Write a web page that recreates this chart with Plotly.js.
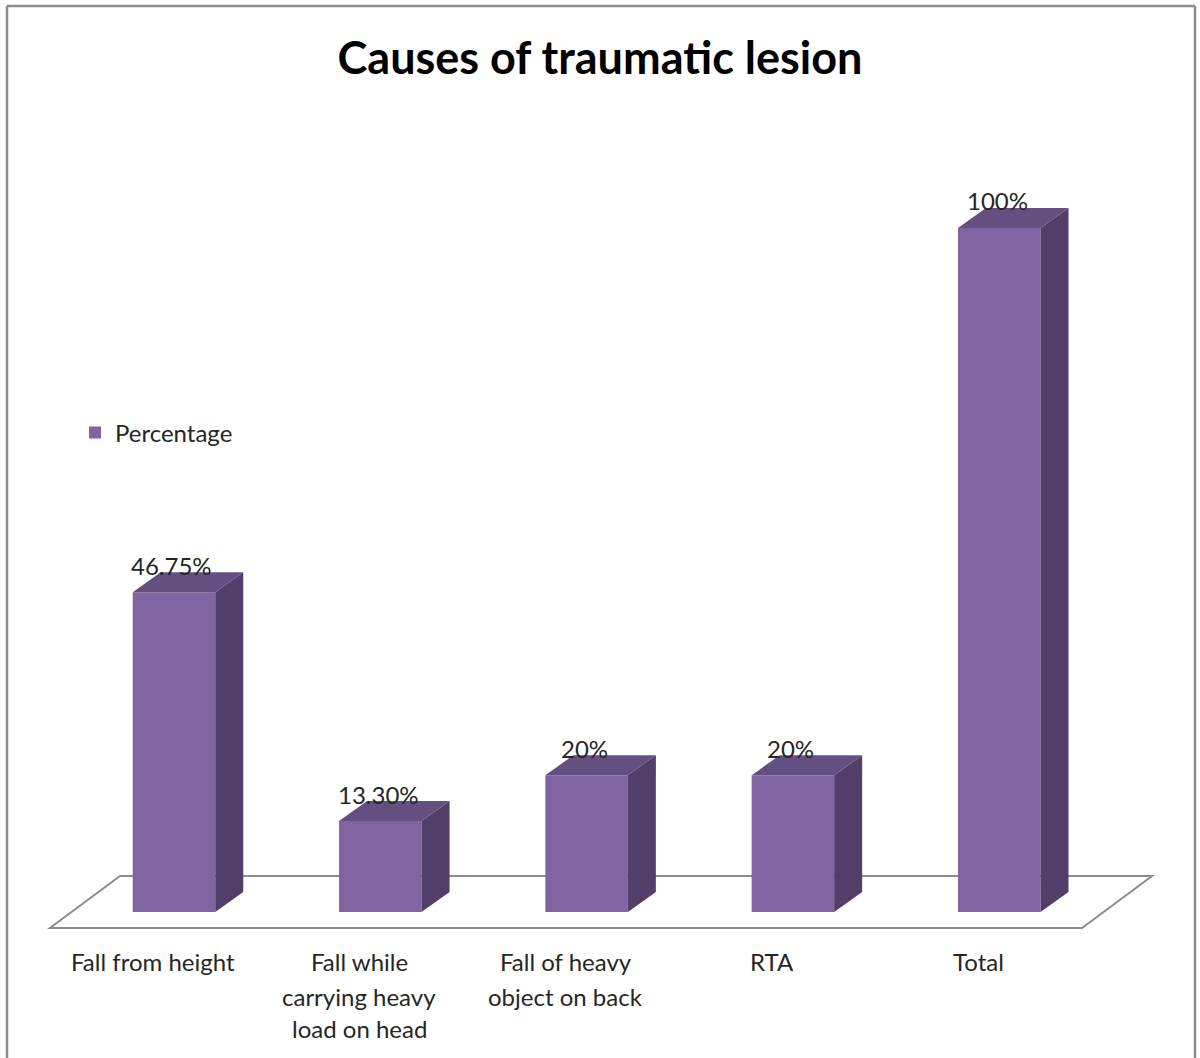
<!DOCTYPE html>
<html>
<head>
<meta charset="utf-8">
<script src="https://cdn.plot.ly/plotly-3.0.1.min.js"></script>
<style>
  html, body { margin: 0; padding: 0; background: #ffffff; }
  #chart { width: 1200px; height: 1058px; }
</style>
</head>
<body>
<div id="chart"></div>
<script>
// ---- data ----
const categories = [
  "Fall from height",
  "Fall while\ncarrying heavy\nload on head",
  "Fall of heavy\nobject on back",
  "RTA",
  "Total"
];
const percentages = [46.75, 13.30, 20, 20, 100];
const valueLabels = ["46.75%", "13.30%", "20%", "20%", "100%"];
const seriesName = "Percentage";
const chartTitle = "Causes of traumatic lesion";

// ---- styling / geometry ----
const W = 1200, H = 1058;
const M = { l: 40, r: 40, t: 100, b: 118 };
const xRange = [-0.6495, 4.7794];
const yRange = [-4.09, 118.71];
const plotW = W - M.l - M.r, plotH = H - M.t - M.b;
const pxPerX = plotW / (xRange[1] - xRange[0]);
const pxPerY = plotH / (yRange[1] - yRange[0]);
const barWidth = 0.4;
const depthX = 28 / pxPerX;   // 3D depth offset (data units)
const depthY = 20 / pxPerY;
const FRONT = "#8064a2", SIDE = "#513f6a", TOP = "#634f80";
const FONT = "Lato, 'Open Sans', sans-serif";
const TEXT = "#262626";

const xs = categories.map((_, i) => i);
function paperX(px) { return (px - M.l) / plotW; }
function paperY(py) { return (H - M.b - py) / plotH; }

const traces = [];
// front faces
traces.push({
  type: "bar", x: xs, y: percentages, width: barWidth, name: seriesName,
  marker: { color: FRONT, line: { width: 0 } }, hoverinfo: "skip", showlegend: true
});
// side & top faces
xs.forEach((x, i) => {
  const v = percentages[i];
  const x0 = x - barWidth / 2, x1 = x + barWidth / 2;
  traces.push({
    type: "scatter", mode: "lines", fill: "toself", fillcolor: SIDE,
    line: { width: 0, color: SIDE }, hoverinfo: "skip", showlegend: false,
    x: [x1, x1 + depthX, x1 + depthX, x1, x1],
    y: [0, depthY, v + depthY, v, 0]
  });
  traces.push({
    type: "scatter", mode: "lines", fill: "toself", fillcolor: TOP,
    line: { width: 0, color: TOP }, hoverinfo: "skip", showlegend: false,
    x: [x0, x1, x1 + depthX, x0 + depthX, x0],
    y: [v, v, v + depthY, v + depthY, v]
  });
});

// floor (drawn below the bars)
const fy0 = -16 / pxPerY, fy1 = 36 / pxPerY;
const fxl0 = xRange[0] + (50 - M.l) / pxPerX, fxr0 = xRange[0] + (1082 - M.l) / pxPerX;
const fxl1 = xRange[0] + (120 - M.l) / pxPerX, fxr1 = xRange[0] + (1152 - M.l) / pxPerX;
const shapes = [
  {
    type: "path", xref: "x", yref: "y", layer: "below",
    path: `M${fxl0},${fy0} L${fxr0},${fy0} L${fxr1},${fy1} L${fxl1},${fy1} Z`,
    fillcolor: "#ffffff", line: { color: "#8c8c8c", width: 2 }
  },
  // outer chart border (left, top, right)
  { type: "line", xref: "paper", yref: "paper", x0: paperX(7), x1: paperX(7), y0: paperY(6), y1: paperY(1070), line: { color: "#8c8c8c", width: 2.5 } },
  { type: "line", xref: "paper", yref: "paper", x0: paperX(7), x1: paperX(1195), y0: paperY(6), y1: paperY(6), line: { color: "#8c8c8c", width: 2.5 } },
  { type: "line", xref: "paper", yref: "paper", x0: paperX(1195), x1: paperX(1195), y0: paperY(6), y1: paperY(1070), line: { color: "#8c8c8c", width: 2.5 } }
];

const annotations = [];
// value labels
xs.forEach((x, i) => {
  annotations.push({
    x: x, y: percentages[i], xref: "x", yref: "y", text: valueLabels[i],
    showarrow: false, xanchor: "center", yanchor: "middle", yshift: 27, xshift: -2,
    font: { family: FONT, size: 24, color: TEXT }
  });
});
// category labels (line by line)
const lineY = [962, 996, 1028];
xs.forEach((x, i) => {
  categories[i].split("\n").forEach((line, j) => {
    annotations.push({
      x: x, y: paperY(lineY[j]), xref: "x", yref: "paper", text: line,
      showarrow: false, xanchor: "center", yanchor: "middle", xshift: -21,
      font: { family: FONT, size: 24, color: TEXT }
    });
  });
});

const layout = {
  width: W, height: H,
  margin: M,
  paper_bgcolor: "#ffffff", plot_bgcolor: "rgba(0,0,0,0)",
  title: {
    text: "<b>" + chartTitle + "</b>", x: 0.5, xref: "paper", y: 1 - 58 / H, yref: "container",
    xanchor: "center", yanchor: "middle",
    font: { family: FONT, size: 45, color: "#000000" }
  },
  xaxis: { range: xRange, showgrid: false, zeroline: false, showline: false, showticklabels: false, fixedrange: true },
  yaxis: { range: yRange, showgrid: false, zeroline: false, showline: false, showticklabels: false, fixedrange: true },
  showlegend: true,
  legend: {
    x: paperX(75), y: paperY(433), xanchor: "left", yanchor: "middle",
    font: { family: FONT, size: 24, color: TEXT }, bgcolor: "rgba(0,0,0,0)"
  },
  shapes: shapes,
  annotations: annotations
};

Plotly.newPlot("chart", traces, layout, { displayModeBar: false, staticPlot: true });
</script>
</body>
</html>
